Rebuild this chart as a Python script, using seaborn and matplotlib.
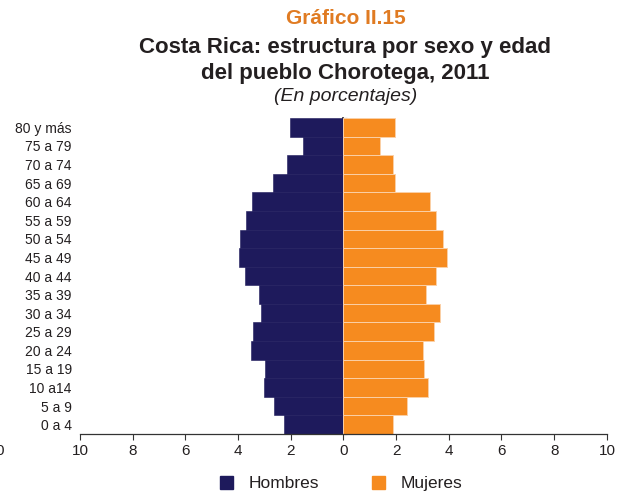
import numpy as np
import pandas as pd
import matplotlib
matplotlib.use("Agg")
import matplotlib.pyplot as plt
from matplotlib.patches import Patch
from matplotlib.ticker import FuncFormatter
import seaborn as sns

# Age groups, oldest first (top of the pyramid)
age_groups = ["80 y más", "75 a 79", "70 a 74", "65 a 69", "60 a 64", "55 a 59",
              "50 a 54", "45 a 49", "40 a 44", "35 a 39", "30 a 34", "25 a 29",
              "20 a 24", "15 a 19", "10 a14", "5 a 9", "0 a 4"]
# Share of the population (%) by sex
hombres = [2.03, 1.52, 2.14, 2.66, 3.46, 3.68, 3.93, 3.97, 3.74,
           3.21, 3.11, 3.45, 3.51, 2.98, 3.03, 2.62, 2.24]
mujeres = [1.97, 1.37, 1.90, 1.97, 3.27, 3.52, 3.79, 3.93, 3.52,
           3.14, 3.65, 3.45, 3.02, 3.07, 3.21, 2.42, 1.87]
x_ticks = [-10, -8, -6, -4, -2, 0, 2, 4, 6, 8, 10]

NAVY = "#1E1A5C"
ORANGE = "#F68B1F"
TEXT = "#231F20"

sns.set_theme(style="white")
plt.rcParams["font.family"] = ["Liberation Sans", "DejaVu Sans"]

df = pd.DataFrame({"edad": age_groups,
                   "hombres": -np.array(hombres),
                   "mujeres": np.array(mujeres)})

fig = plt.figure(figsize=(6.18, 4.94), dpi=100)
ax = fig.add_axes([0.1294, 0.1215, 0.8526, 0.6395])

sns.barplot(data=df, x="hombres", y="edad", order=age_groups, orient="h",
            color=NAVY, saturation=1, width=1.0, edgecolor=NAVY, linewidth=0.4,
            ax=ax)
sns.barplot(data=df, x="mujeres", y="edad", order=age_groups, orient="h",
            color=ORANGE, saturation=1, width=1.0, edgecolor="#FBD0A6",
            linewidth=0.7, ax=ax)

ax.set_xlim(-10, 10)
ax.set_ylim(16.5, -0.5)
ax.set_xlabel("")
ax.set_ylabel("")
ax.set_xticks(x_ticks)
ax.xaxis.set_major_formatter(FuncFormatter(lambda v, p: f"{abs(v):.0f}"))
ax.tick_params(axis="x", bottom=True, length=4, width=0.8, color="#333333",
               labelsize=11, labelcolor=TEXT, pad=3)
ax.tick_params(axis="y", left=False, length=0, labelsize=10, labelcolor=TEXT,
               pad=6)
for label in ax.get_yticklabels():
    label.set_va("center_baseline")
for side in ("top", "right", "left"):
    ax.spines[side].set_visible(False)
ax.spines["bottom"].set_color("#333333")
ax.spines["bottom"].set_linewidth(0.9)

# Central axis line with ticks at the age-group boundaries
center = ax.secondary_yaxis(0.5)
center.set_yticks(np.arange(-0.5, 17, 1.0))
center.set_yticklabels([])
center.tick_params(axis="y", length=3, width=0.8, color="#333333", direction="out")
center.spines["left"].set_color("#333333")
center.spines["left"].set_linewidth(1.0)

# Titles
fig.text(0.560, 0.962, "Gráfico II.15", ha="center", va="center",
         fontsize=15, fontweight="bold", color="#E07B22")
fig.text(0.559, 0.904, "Costa Rica: estructura por sexo y edad", ha="center",
         va="center", fontsize=16, fontweight="bold", color=TEXT)
fig.text(0.559, 0.851, "del pueblo Chorotega, 2011", ha="center",
         va="center", fontsize=16, fontweight="bold", color=TEXT)
fig.text(0.559, 0.804, "(En porcentajes)", ha="center", va="center",
         fontsize=14, fontstyle="italic", color=TEXT)

# Legend
handles = [Patch(facecolor=NAVY, edgecolor=NAVY, label="Hombres"),
           Patch(facecolor=ORANGE, edgecolor=ORANGE, label="Mujeres")]
fig.legend(handles=handles, loc="center", bbox_to_anchor=(0.552, 0.021),
           ncol=2, frameon=False, fontsize=12.5, handlelength=0.75,
           handleheight=0.75, handletextpad=0.9, columnspacing=3.0,
           labelcolor=TEXT)

# Partial label of an adjoining axis at the left border
fig.text(0.0, 0.088, "0", ha="center", va="center", fontsize=11, color=TEXT)

fig.savefig("out.png", dpi=100)
